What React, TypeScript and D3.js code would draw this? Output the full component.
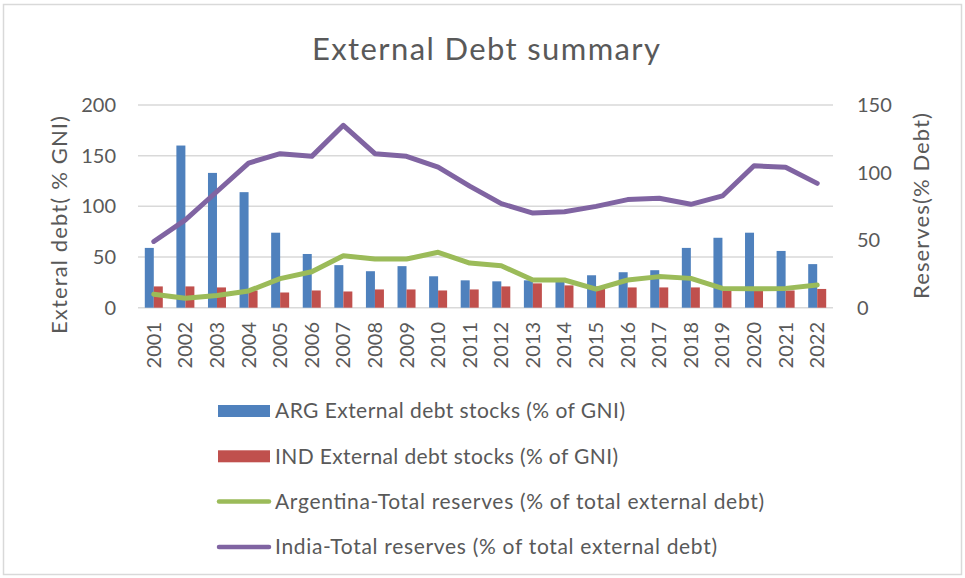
import React from "react";
import * as d3 from "d3";

const years = ["2001","2002","2003","2004","2005","2006","2007","2008","2009","2010","2011","2012","2013","2014","2015","2016","2017","2018","2019","2020","2021","2022"];
const argDebt = [59, 160, 133, 114, 74, 53, 42, 36, 41, 31, 27, 26, 27, 27, 32, 35, 37, 59, 69, 74, 56, 43];
const indDebt = [21, 21, 20, 17, 15, 17, 16, 18, 18, 17, 18, 21, 24, 22, 21, 20, 20, 20, 19.5, 17, 17, 18.5];
const argReserves = [10, 7, 9, 12.4, 21.5, 26.6, 38.5, 36, 36, 41, 33, 31, 20.5, 20.5, 13.8, 20.5, 23, 21.7, 14.3, 14, 14.3, 16.8];
const indReserves = [49, 65, 86, 107, 114, 112, 135, 114, 112, 104, 90, 77, 70, 71, 75, 80, 81, 76.5, 82.7, 105, 104, 92];
const leftTicks = [0, 50, 100, 150, 200];
const rightTicks = [0, 50, 100, 150];
const legendItems = [
  { label: "ARG External debt stocks (% of GNI)", color: "#4f81bd", kind: "bar", len: 350 },
  { label: "IND External debt stocks (% of GNI)", color: "#c0504d", kind: "bar", len: 343 },
  { label: "Argentina-Total reserves (% of total external debt)", color: "#9bbb59", kind: "line", len: 489 },
  { label: "India-Total reserves (% of total external debt)", color: "#8064a2", kind: "line", len: 442 },
];

const FONT = "Lato, 'Open Sans', sans-serif";
const TXT = "#595959";

export default function App() {
  const W = 965, H = 578;
  const left = 138, right = 833, top = 105, bottom = 307.7;
  const x = d3.scaleBand<string>().domain(years).range([left, right]).paddingInner(0).paddingOuter(0);
  const xs = d3.scaleBand<string>().domain(["ARG", "IND"]).range([0, 18]);
  const yL = d3.scaleLinear().domain([0, 200]).range([bottom, top]);
  const yR = d3.scaleLinear().domain([0, 150]).range([bottom, top]);
  const cx = (i: number) => (x(years[i]) as number) + x.bandwidth() / 2;
  const line = d3.line<number>().x((_, i) => cx(i)).y((d) => yR(d)).curve(d3.curveLinear);
  const off = x.bandwidth() / 2 - 9;

  return (
    <svg width={W} height={H} style={{ position: "absolute", left: 0, top: 0, background: "#fff" }} fontFamily={FONT}>
      <rect x={0} y={0} width={W} height={H} fill="#fff" />
      <rect x={3.5} y={4.5} width={958} height={570} fill="none" stroke="#d9d9d9" strokeWidth={1.5} />
      <text x={486} y={60} textAnchor="middle" fontSize={31} fill={TXT} textLength={348} lengthAdjust="spacing">External Debt summary</text>

      {leftTicks.map((t) => (
        <line key={"g" + t} x1={left} x2={right} y1={yL(t)} y2={yL(t)} stroke="#d9d9d9" strokeWidth={1.5} />
      ))}
      {leftTicks.map((t) => (
        <text key={"l" + t} x={116} y={yL(t)} dy="0.35em" textAnchor="end" fontSize={20} fill={TXT}>{t}</text>
      ))}
      {rightTicks.map((t) => (
        <text key={"r" + t} x={857} y={yR(t)} dy="0.35em" textAnchor="start" fontSize={20} fill={TXT}>{t}</text>
      ))}
      <text transform={`translate(67,225) rotate(-90)`} textAnchor="middle" fontSize={22} fill={TXT} textLength={218} lengthAdjust="spacing">Exteral debt( % GNI)</text>
      <text transform={`translate(929,206) rotate(-90)`} textAnchor="middle" fontSize={22} fill={TXT} textLength={186} lengthAdjust="spacing">Reserves(% Debt)</text>

      {years.map((yr, i) => (
        <g key={"b" + yr}>
          <rect x={(x(yr) as number) + off + (xs("ARG") as number)} width={xs.bandwidth()} y={yL(argDebt[i])} height={bottom - yL(argDebt[i])} fill="#4f81bd" />
          <rect x={(x(yr) as number) + off + (xs("IND") as number)} width={xs.bandwidth()} y={yL(indDebt[i])} height={bottom - yL(indDebt[i])} fill="#c0504d" />
        </g>
      ))}
      <path d={line(argReserves) as string} fill="none" stroke="#9bbb59" strokeWidth={5} strokeLinecap="round" strokeLinejoin="round" />
      <path d={line(indReserves) as string} fill="none" stroke="#8064a2" strokeWidth={5} strokeLinecap="round" strokeLinejoin="round" />

      {years.map((yr, i) => (
        <text key={"x" + yr} transform={`translate(${cx(i)},322) rotate(-90)`} dy="0.35em" textAnchor="end" fontSize={20} fill={TXT}>{yr}</text>
      ))}

      {legendItems.map((it, i) => {
        const cy = 411 + i * 45.3;
        return (
          <g key={"lg" + i}>
            {it.kind === "bar" ? (
              <rect x={218} y={cy - 6} width={52} height={12} fill={it.color} />
            ) : (
              <line x1={219} x2={269} y1={cy} y2={cy} stroke={it.color} strokeWidth={4.5} strokeLinecap="round" />
            )}
            <text x={275} y={cy} dy="0.35em" fontSize={21} fill={TXT} textLength={it.len} lengthAdjust="spacing">{it.label}</text>
          </g>
        );
      })}
    </svg>
  );
}
